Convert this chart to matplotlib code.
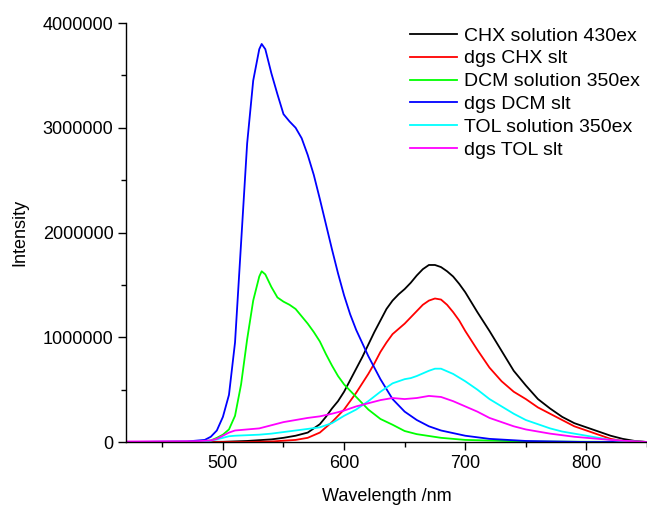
"""Emission spectra of the dye in solution and as degassed films."""

import numpy as np
import matplotlib

matplotlib.use("Agg")
import matplotlib.pyplot as plt
from matplotlib.ticker import MultipleLocator

plt.rcParams["font.family"] = ["Liberation Sans", "DejaVu Sans"]

# ==========================================
# SPECTRA (intensity in millions of counts)
# ==========================================

chx_sol_wl = [420, 500, 520, 540, 550, 560, 570, 580, 585, 590, 595, 600, 605, 610,
              615, 620, 625, 630, 635, 640, 645, 650, 655, 660, 665, 670, 675, 680,
              685, 690, 695, 700, 710, 720, 730, 740, 750, 760, 770, 780, 790, 800,
              810, 820, 830, 840, 850]
chx_sol_int = [0.0, 0.002, 0.01, 0.025, 0.04, 0.06, 0.09, 0.17, 0.24, 0.32, 0.39,
               0.48, 0.59, 0.70, 0.81, 0.93, 1.05, 1.16, 1.27, 1.35, 1.41, 1.46,
               1.52, 1.59, 1.65, 1.69, 1.69, 1.67, 1.63, 1.58, 1.51, 1.43, 1.24,
               1.06, 0.87, 0.68, 0.54, 0.41, 0.32, 0.24, 0.18, 0.14, 0.10, 0.06,
               0.03, 0.01, 0.0]

chx_slt_wl = [420, 520, 540, 560, 570, 580, 585, 590, 595, 600, 605, 610, 615, 620,
              625, 630, 635, 640, 645, 650, 655, 660, 665, 670, 675, 680, 685, 690,
              695, 700, 710, 720, 730, 740, 750, 760, 770, 780, 790, 800, 810, 820,
              830, 840, 850]
chx_slt_int = [0.0, 0.0, 0.005, 0.02, 0.04, 0.09, 0.14, 0.19, 0.25, 0.31, 0.39,
               0.47, 0.56, 0.65, 0.75, 0.86, 0.95, 1.03, 1.08, 1.13, 1.19, 1.25,
               1.31, 1.35, 1.37, 1.36, 1.31, 1.24, 1.16, 1.06, 0.88, 0.71, 0.58,
               0.48, 0.41, 0.33, 0.27, 0.21, 0.15, 0.11, 0.07, 0.03, 0.01, 0.005,
               0.0]

dcm_sol_wl = [420, 480, 490, 495, 500, 505, 510, 515, 520, 525, 530, 532, 535, 540,
              545, 550, 555, 560, 565, 570, 575, 580, 585, 590, 595, 600, 610, 620,
              630, 640, 650, 660, 680, 700, 750, 850]
dcm_sol_int = [0.0, 0.003, 0.015, 0.04, 0.07, 0.12, 0.25, 0.55, 0.98, 1.35, 1.58,
               1.63, 1.60, 1.48, 1.38, 1.34, 1.31, 1.27, 1.20, 1.13, 1.05, 0.96,
               0.84, 0.73, 0.63, 0.55, 0.43, 0.31, 0.22, 0.165, 0.105, 0.075, 0.04,
               0.02, 0.005, 0.0]

dcm_slt_wl = [420, 470, 485, 490, 495, 500, 505, 510, 515, 520, 525, 530, 532, 535,
              540, 545, 550, 555, 560, 565, 570, 575, 580, 585, 590, 595, 600, 605,
              610, 620, 630, 640, 650, 660, 670, 680, 700, 720, 750, 800, 850]
dcm_slt_int = [0.0, 0.005, 0.02, 0.05, 0.11, 0.24, 0.45, 0.95, 1.9, 2.85, 3.45,
               3.75, 3.80, 3.75, 3.52, 3.32, 3.13, 3.06, 3.0, 2.9, 2.74, 2.55, 2.32,
               2.08, 1.84, 1.61, 1.40, 1.22, 1.07, 0.82, 0.60, 0.41, 0.29, 0.21,
               0.15, 0.11, 0.06, 0.03, 0.01, 0.0, 0.0]

tol_sol_wl = [420, 480, 490, 495, 500, 505, 510, 520, 530, 540, 550, 560, 570, 580,
              590, 600, 610, 620, 630, 640, 650, 655, 660, 670, 675, 680, 690, 700,
              710, 720, 730, 740, 750, 760, 770, 780, 790, 800, 810, 820, 830, 840,
              850]
tol_sol_int = [0.0, 0.003, 0.012, 0.025, 0.04, 0.055, 0.06, 0.065, 0.07, 0.08,
               0.095, 0.11, 0.125, 0.14, 0.18, 0.25, 0.31, 0.39, 0.48, 0.56, 0.60,
               0.61, 0.63, 0.68, 0.70, 0.70, 0.65, 0.58, 0.50, 0.41, 0.34, 0.27,
               0.21, 0.17, 0.13, 0.10, 0.08, 0.06, 0.04, 0.02, 0.01, 0.005, 0.0]

tol_slt_wl = [420, 480, 490, 495, 500, 505, 510, 515, 520, 530, 540, 550, 560, 570,
              580, 590, 600, 610, 620, 630, 640, 650, 660, 670, 680, 690, 700, 710,
              720, 730, 740, 750, 760, 770, 780, 790, 800, 810, 820, 830, 840, 850]
tol_slt_int = [0.005, 0.008, 0.015, 0.03, 0.06, 0.09, 0.11, 0.115, 0.12, 0.13,
               0.16, 0.19, 0.21, 0.23, 0.245, 0.27, 0.30, 0.34, 0.37, 0.40, 0.42,
               0.41, 0.42, 0.44, 0.43, 0.39, 0.34, 0.29, 0.23, 0.19, 0.15, 0.12,
               0.10, 0.08, 0.065, 0.05, 0.04, 0.03, 0.02, 0.012, 0.006, 0.0]

labels = ["CHX solution 430ex", "dgs CHX slt", "DCM solution 350ex",
          "dgs DCM slt", "TOL solution 350ex", "dgs TOL slt"]
colors = ["#000000", "#ff0000", "#00ff00", "#0000ff", "#00ffff", "#ff00ff"]

spectra = [
    (chx_sol_wl, chx_sol_int),
    (chx_slt_wl, chx_slt_int),
    (dcm_sol_wl, dcm_sol_int),
    (dcm_slt_wl, dcm_slt_int),
    (tol_sol_wl, tol_sol_int),
    (tol_slt_wl, tol_slt_int),
]


def plot_spectra():
    fig = plt.figure(figsize=(6.47, 5.08), dpi=100)
    ax = fig.add_axes([0.1947, 0.1299, 0.8053, 0.8248])

    for (wl, inten), label, color in zip(spectra, labels, colors):
        ax.plot(wl, np.array(inten) * 1e6, color=color, linewidth=1.3, label=label)

    ax.set_xlim(420, 850)
    ax.set_ylim(0, 4000000)
    ax.xaxis.set_major_locator(MultipleLocator(100))
    ax.xaxis.set_minor_locator(MultipleLocator(50))
    ax.yaxis.set_major_locator(MultipleLocator(1000000))
    ax.yaxis.set_minor_locator(MultipleLocator(500000))
    ax.ticklabel_format(axis="y", style="plain", useOffset=False)

    # Origin-style frame: left and bottom axes only, ticks pointing out
    ax.spines["top"].set_visible(False)
    ax.spines["right"].set_visible(False)
    for side in ("left", "bottom"):
        ax.spines[side].set_linewidth(1.0)
    ax.tick_params(which="major", direction="out", length=6, width=1.0,
                   labelsize=13, pad=3)
    ax.tick_params(which="minor", direction="out", length=3.5, width=1.0)

    ax.set_xlabel("Wavelength /nm", fontsize=13, labelpad=12)
    ax.set_ylabel("Intensity", fontsize=13, labelpad=10)

    ax.legend(loc="upper left", bbox_to_anchor=(0.53, 1.009), frameon=False,
              fontsize=14, handlelength=2.4, handletextpad=0.4,
              labelspacing=0.27, borderaxespad=0.0)

    fig.savefig("out.png", dpi=100)


if __name__ == "__main__":
    plot_spectra()
